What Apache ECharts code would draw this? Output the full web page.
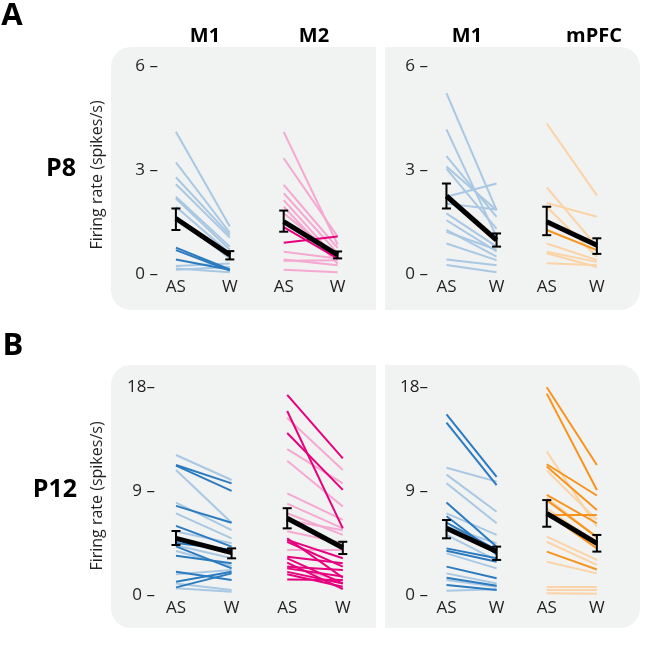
<!DOCTYPE html>
<html>
<head>
<meta charset="utf-8">
<script src="https://cdn.jsdelivr.net/npm/echarts@6/dist/echarts.min.js"></script>
<style>
html,body{margin:0;padding:0;background:#fff;}
#c{width:650px;height:670px;}
</style>
</head>
<body>
<div id="c"></div>
<script>
// ---------- DATA ----------
const conditions = ['AS', 'W'];
const regionsLeft = ['M1', 'M2'];
const regionsRight = ['M1', 'mPFC'];
const ageLabels = ['P8', 'P12'];
const ticksP8 = [0, 3, 6];
const ticksP12 = [0, 9, 18];

// P8, left panel, M1
const p8L_M1_lightAS = [4.1, 3.22, 2.79, 2.59, 2.23, 2.18, 1.94, 1.65, 0.23, 0.16, 0.12];
const p8L_M1_lightW  = [1.37, 1.19, 1.12, 1.05, 0.79, 0.7, 0.6, 0.45, 0.3, 0.05, 0.2];
const p8L_M1_darkAS  = [0.76, 0.69, 0.42];
const p8L_M1_darkW   = [0.13, 0.1, 0.12];
const p8L_M1_mean = [1.6, 0.55];
const p8L_M1_errAS = [1.27, 1.89];
const p8L_M1_errW  = [0.42, 0.66];

// P8, left panel, M2
const p8L_M2_lightAS = [4.1, 3.34, 2.57, 2.33, 2.13, 1.94, 1.75, 0.64, 0.42, 0.38, 0.12];
const p8L_M2_lightW  = [0.85, 1.08, 0.75, 0.6, 0.4, 0.3, 0.5, 0.45, 0.25, 0.4, 0.05];
const p8L_M2_darkAS  = [0.9, 1.35];
const p8L_M2_darkW   = [1.08, 0.45];
const p8L_M2_mean = [1.51, 0.55];
const p8L_M2_errAS = [1.22, 1.83];
const p8L_M2_errW  = [0.45, 0.65];

// P8, right panel, M1
const p8R_M1_lightAS = [5.22, 4.17, 3.4, 3.1, 3.04, 2.23, 2.03, 1.75, 1.55, 1.27, 1.22, 0.88, 0.42, 0.26];
const p8R_M1_lightW  = [1.84, 1.07, 1.65, 1.84, 1.3, 2.61, 1.86, 0.79, 0.65, 0.5, 0.7, 0.4, 0.25, 0.05];
const p8R_M1_darkAS  = [];
const p8R_M1_darkW   = [];
const p8R_M1_mean = [2.25, 0.98];
const p8R_M1_errAS = [1.89, 2.61];
const p8R_M1_errW  = [0.79, 1.17];

// P8, right panel, mPFC
const p8R_PFC_lightAS = [4.34, 2.5, 2.05, 1.94, 0.88, 0.64, 0.6, 0.31];
const p8R_PFC_lightW  = [2.27, 0.79, 1.65, 0.5, 0.4, 0.35, 0.2, 0.25];
const p8R_PFC_darkAS  = [1.27];
const p8R_PFC_darkW   = [0.69];
const p8R_PFC_mean = [1.51, 0.83];
const p8R_PFC_errAS = [1.12, 1.94];
const p8R_PFC_errW  = [0.58, 1.03];

// P12, left panel, M1
const p12L_M1_lightAS = [12.1, 10.8, 7.98, 7.06, 5.48, 4.3, 1.8, 1.0, 0.58, 3.8, 4.6];
const p12L_M1_lightW  = [9.94, 6.25, 5.6, 4.9, 4.47, 3.17, 2.16, 0.43, 0.29, 2.5, 3.9];
const p12L_M1_darkAS  = [11.24, 11.18, 7.7, 5.97, 4.5, 3.4, 2.0, 1.15, 0.66, 4.2];
const p12L_M1_darkW   = [9.65, 9.0, 6.25, 4.18, 3.9, 2.74, 1.3, 2.0, 1.87, 2.3];
const p12L_M1_mean = [4.9, 3.66];
const p12L_M1_errAS = [4.32, 5.53];
const p12L_M1_errW  = [3.17, 4.03];

// P12, left panel, M2
const p12L_M2_lightAS = [15.3, 12.6, 11.6, 8.79, 7.9, 7.06, 6.48, 3.9, 5.5, 2.5];
const p12L_M2_lightW  = [10.8, 9.65, 7.64, 6.5, 5.76, 5.19, 5.6, 3.9, 4.5, 1.2];
const p12L_M2_darkAS  = [17.3, 15.9, 14.0, 4.76, 4.6, 3.3, 3.17, 2.45, 2.3, 2.0, 1.8, 1.35, 4.9, 2.8];
const p12L_M2_darkW   = [11.8, 5.76, 9.08, 3.17, 2.45, 2.74, 1.0, 2.16, 1.59, 1.0, 0.72, 1.3, 1.5, 0.5];
const p12L_M2_mean = [6.63, 4.09];
const p12L_M2_errAS = [5.76, 7.5];
const p12L_M2_errW  = [3.54, 4.6];

// P12, right panel, M1
const p12R_M1_lightAS = [11.0, 10.4, 9.65, 7.06, 5.9, 3.6, 1.87, 1.3, 0.37, 5.2];
const p12R_M1_lightW  = [9.8, 7.2, 6.2, 5.19, 4.47, 2.3, 1.0, 0.72, 0.49, 3.0];
const p12R_M1_darkAS  = [15.6, 14.9, 8.0, 6.25, 4.03, 3.83, 2.45, 0.86, 6.8, 1.5];
const p12R_M1_darkW   = [10.2, 9.5, 4.18, 3.9, 3.17, 2.88, 1.44, 0.43, 3.5, 0.8];
const p12R_M1_mean = [5.76, 3.75];
const p12R_M1_errAS = [4.9, 6.48];
const p12R_M1_errW  = [3.03, 4.18];

// P12, right panel, mPFC
const p12R_PFC_lightAS = [12.4, 10.75, 8.4, 7.5, 5.04, 2.88, 0.75, 0.45, 0.15, 4.6];
const p12R_PFC_lightW  = [5.9, 6.5, 5.0, 4.47, 3.03, 1.87, 0.75, 0.45, 0.1, 2.6];
const p12R_PFC_darkAS  = [17.95, 17.4, 11.3, 11.1, 8.65, 6.97, 7.06, 3.75, 8.2];
const p12R_PFC_darkW   = [11.24, 9.08, 8.6, 7.35, 6.2, 6.97, 4.03, 2.2, 5.0];
const p12R_PFC_mean = [7.06, 4.47];
const p12R_PFC_errAS = [5.9, 8.2];
const p12R_PFC_errW  = [3.75, 5.19];

// ---------- STYLE ----------
const BLUE = {light: '#a9c8e3', dark: '#2a7bbf'};
const PINK = {light: '#f5a8d0', dark: '#e6007e'};
const ORANGE = {light: '#fbd3a6', dark: '#f7941d'};
const FONT = '"Open Sans", "Noto Sans", sans-serif';
const TXT = '#231f20';
const PANEL = '#f1f2f2';

const grids = [
  {left: 122, width: 269.5, top: 66, height: 208, yLabelRight: 158, max: 6, interval: 3},
  {left: 396.3, width: 268.3, top: 66, height: 208, yLabelRight: 428, max: 6, interval: 3},
  {left: 120.4, width: 278, top: 386.7, height: 208.3, yLabelRight: 155, max: 18, interval: 9},
  {left: 396.4, width: 268, top: 386.7, height: 208.3, yLabelRight: 428, max: 18, interval: 9}
];

const option = {
  animation: false,
  backgroundColor: '#fff',
  grid: grids.map(g => ({left: g.left, top: g.top, width: g.width, height: g.height, containLabel: false})),
  xAxis: grids.map((g, i) => ({
    type: 'value', gridIndex: i, min: -1, max: 4, interval: 1,
    axisLine: {show: false}, axisTick: {show: false}, splitLine: {show: false},
    axisLabel: {
      show: true, margin: 5, color: TXT, fontFamily: FONT, fontSize: 17,
      showMinLabel: true, showMaxLabel: true,
      formatter: v => (v >= 0 && v <= 3) ? conditions[v % 2] : ''
    }
  })),
  yAxis: grids.map((g, i) => ({
    type: 'value', gridIndex: i, min: 0, max: g.max, interval: g.interval,
    axisLine: {show: false}, axisTick: {show: false}, splitLine: {show: false},
    axisLabel: {
      margin: g.left - g.yLabelRight, color: TXT, fontFamily: FONT, fontSize: 17,
      formatter: v => v >= 10 ? v + '–' : v + ' –'
    }
  })),
  series: [],
  graphic: []
};

function addGroup(gi, xa, xw, lAS, lW, dAS, dW, mean, eAS, eW, col) {
  option.series.push({
    type: 'lines', coordinateSystem: 'cartesian2d', xAxisIndex: gi, yAxisIndex: gi,
    silent: true, z: 2,
    lineStyle: {color: col.light, width: 2, opacity: 1},
    data: lAS.map((v, k) => ({coords: [[xa, v], [xw, lW[k]]]}))
  });
  option.series.push({
    type: 'lines', coordinateSystem: 'cartesian2d', xAxisIndex: gi, yAxisIndex: gi,
    silent: true, z: 3,
    lineStyle: {color: col.dark, width: 2, opacity: 1},
    data: dAS.map((v, k) => ({coords: [[xa, v], [xw, dW[k]]]}))
  });
  option.series.push({
    type: 'line', xAxisIndex: gi, yAxisIndex: gi, silent: true, z: 4,
    symbol: 'none', lineStyle: {color: '#000', width: 5, cap: 'butt'},
    data: [[xa, mean[0]], [xw, mean[1]]]
  });
  option.series.push({
    type: 'custom', xAxisIndex: gi, yAxisIndex: gi, silent: true, z: 5,
    data: [[xa, eAS[0], eAS[1]], [xw, eW[0], eW[1]]],
    renderItem: function (params, api) {
      const lo = api.coord([api.value(0), api.value(1)]);
      const hi = api.coord([api.value(0), api.value(2)]);
      const hw = 4.5;
      const st = {stroke: '#000', lineWidth: 2, fill: null};
      return {type: 'group', children: [
        {type: 'line', shape: {x1: lo[0], y1: lo[1], x2: hi[0], y2: hi[1]}, style: st},
        {type: 'line', shape: {x1: lo[0] - hw, y1: lo[1], x2: lo[0] + hw, y2: lo[1]}, style: st},
        {type: 'line', shape: {x1: hi[0] - hw, y1: hi[1], x2: hi[0] + hw, y2: hi[1]}, style: st}
      ]};
    }
  });
}

addGroup(0, 0, 1, p8L_M1_lightAS, p8L_M1_lightW, p8L_M1_darkAS, p8L_M1_darkW, p8L_M1_mean, p8L_M1_errAS, p8L_M1_errW, BLUE);
addGroup(0, 2, 3, p8L_M2_lightAS, p8L_M2_lightW, p8L_M2_darkAS, p8L_M2_darkW, p8L_M2_mean, p8L_M2_errAS, p8L_M2_errW, PINK);
addGroup(1, 0, 1, p8R_M1_lightAS, p8R_M1_lightW, p8R_M1_darkAS, p8R_M1_darkW, p8R_M1_mean, p8R_M1_errAS, p8R_M1_errW, BLUE);
addGroup(1, 2, 3, p8R_PFC_lightAS, p8R_PFC_lightW, p8R_PFC_darkAS, p8R_PFC_darkW, p8R_PFC_mean, p8R_PFC_errAS, p8R_PFC_errW, ORANGE);
addGroup(2, 0, 1, p12L_M1_lightAS, p12L_M1_lightW, p12L_M1_darkAS, p12L_M1_darkW, p12L_M1_mean, p12L_M1_errAS, p12L_M1_errW, BLUE);
addGroup(2, 2, 3, p12L_M2_lightAS, p12L_M2_lightW, p12L_M2_darkAS, p12L_M2_darkW, p12L_M2_mean, p12L_M2_errAS, p12L_M2_errW, PINK);
addGroup(3, 0, 1, p12R_M1_lightAS, p12R_M1_lightW, p12R_M1_darkAS, p12R_M1_darkW, p12R_M1_mean, p12R_M1_errAS, p12R_M1_errW, BLUE);
addGroup(3, 2, 3, p12R_PFC_lightAS, p12R_PFC_lightW, p12R_PFC_darkAS, p12R_PFC_darkW, p12R_PFC_mean, p12R_PFC_errAS, p12R_PFC_errW, ORANGE);

const panels = [
  {x: 111, y: 47, w: 265, h: 263, r: [20, 0, 0, 20]},
  {x: 385, y: 47, w: 255, h: 263, r: [0, 20, 20, 0]},
  {x: 111, y: 365, w: 265, h: 263, r: [20, 0, 0, 20]},
  {x: 385, y: 365, w: 255, h: 263, r: [0, 20, 20, 0]}
];
panels.forEach(p => option.graphic.push({
  type: 'rect', z: -100, silent: true,
  shape: {x: p.x, y: p.y, width: p.w, height: p.h, r: p.r},
  style: {fill: PANEL}
}));

function txt(text, x, y, font, opts) {
  option.graphic.push(Object.assign({
    type: 'text', x: x, y: y, silent: true, z: 10,
    style: {text: text, font: font, fill: opts && opts.fill || '#000', align: 'center', verticalAlign: 'middle'}
  }, opts && opts.extra || {}));
}
txt('A', 12, 16, 'bold 31px ' + FONT);
txt('B', 13, 346, 'bold 31px ' + FONT);
txt(ageLabels[0], 61, 169, 'bold 25px ' + FONT);
txt(ageLabels[1], 55, 490, 'bold 25px ' + FONT);
txt(regionsLeft[0], 205, 36, 'bold 20px ' + FONT);
txt(regionsLeft[1], 314, 36, 'bold 20px ' + FONT);
txt(regionsRight[0], 467, 36, 'bold 20px ' + FONT);
txt(regionsRight[1], 594, 36, 'bold 20px ' + FONT);
txt('Firing rate (spikes/s)', 97, 175, '16px ' + FONT, {fill: TXT, extra: {rotation: Math.PI / 2}});
txt('Firing rate (spikes/s)', 97, 496, '16px ' + FONT, {fill: TXT, extra: {rotation: Math.PI / 2}});

const chart = echarts.init(document.getElementById('c'), null, {renderer: 'canvas'});
chart.setOption(option);
</script>
</body>
</html>
